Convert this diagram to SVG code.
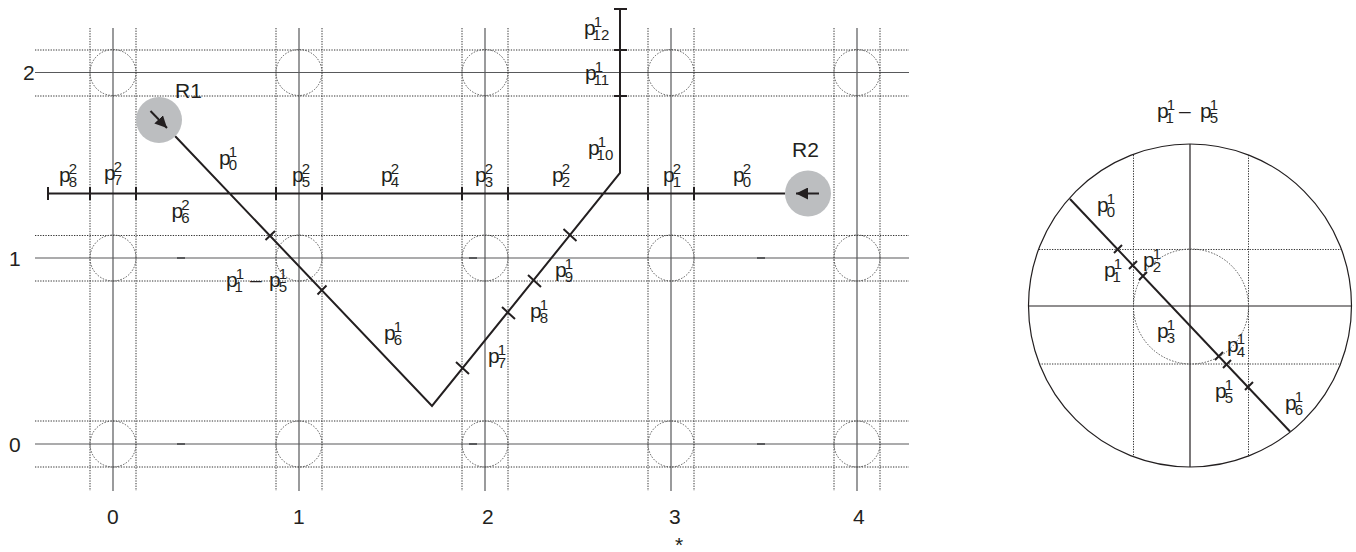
<svg xmlns="http://www.w3.org/2000/svg" width="1356" height="552" viewBox="0 0 1356 552">
<style>
text{font-family:"Liberation Sans",Arial,sans-serif;fill:#231f20;font-size:21px}
.s{font-size:15px}
.g{stroke:#58595b;stroke-width:1.2;fill:none}
.d{stroke:#333;stroke-width:1;stroke-dasharray:1.3 1.3;fill:none}
.c{stroke:#555;stroke-width:1;stroke-dasharray:1.5 1.5;fill:none}
.t{stroke:#231f20;stroke-width:2;fill:none}
.k{stroke:#231f20;stroke-width:2;fill:none}
.m{stroke:#58595b;stroke-width:2;fill:none}
.r{fill:#bcbec0}
</style>
<defs>
<marker id="ah" viewBox="0 0 10 10" refX="10" refY="5" markerWidth="12" markerHeight="12" markerUnits="userSpaceOnUse" orient="auto"><path d="M0 0L10 5L0 10Z" fill="#231f20"/></marker>
<g id="lc"><circle class="c" r="23"/></g>
</defs>
<g id="grid">
<path class="g" d="M113 28V491M299 28V491M485 28V491M671 28V491M857 28V491M35 72.5H909M35 258H909M35 444H909"/>
<path class="d" d="M90 28V491M136 28V491M276 28V491M322 28V491M462 28V491M508 28V491M648 28V491M694 28V491M834 28V491M880 28V491M35 50H909M35 96H909M35 235.500H909M35 281H909M35 421H909M35 467H909"/>
<use href="#lc" x="113" y="72.500"/><use href="#lc" x="299" y="72.500"/><use href="#lc" x="485" y="72.500"/><use href="#lc" x="671" y="72.500"/><use href="#lc" x="857" y="72.500"/>
<use href="#lc" x="113" y="258"/><use href="#lc" x="299" y="258"/><use href="#lc" x="485" y="258"/><use href="#lc" x="671" y="258"/><use href="#lc" x="857" y="258"/>
<use href="#lc" x="113" y="444"/><use href="#lc" x="299" y="444"/><use href="#lc" x="485" y="444"/><use href="#lc" x="671" y="444"/><use href="#lc" x="857" y="444"/>
<path class="m" d="M177 258h8M469 258h8M757 258h8M177 444h8M469 444h8M757 444h8"/>
<text x="23" y="80">2</text><text x="9" y="266">1</text><text x="9" y="452">0</text>
<text x="107" y="524">0</text><text x="293" y="524">1</text><text x="482" y="524">2</text><text x="669" y="524">3</text><text x="853" y="524">4</text>
<text x="675" y="552" font-size="21">*</text>
</g>
<g id="connectors">
<path class="t" d="M48 193.500H785M175 136L432 406L620 173V9"/>
<path class="k" d="M48 187v13M90 187v13M136 187v13M276 187v13M322 187v13M462 187v13M508 187v13M648 187v13M694 187v13M614 9h13M614 50h13M614 96h13M265.500 240L275 231M317.500 294.500L326.500 285.500M456 362L469 374M502 307L515 319M528 275L541 287M563.500 229L576.500 241"/>
</g>
<g id="R1"><circle class="r" cx="159" cy="120" r="23"/><line x1="150.500" y1="111" x2="167" y2="128" stroke="#231f20" stroke-width="2" marker-end="url(#ah)"/><text x="175" y="98">R1</text></g>
<g id="R2"><circle class="r" cx="808" cy="193.500" r="23"/><line x1="819" y1="193.500" x2="796" y2="193.500" stroke="#231f20" stroke-width="2" marker-end="url(#ah)"/><text x="792" y="157">R2</text></g>
<g id="labels">
<text x="59" y="182">p<tspan class="s" dx="-2" dy="-8.500">2</tspan><tspan class="s" dx="-8.340" dy="13">8</tspan></text>
<text x="104" y="180">p<tspan class="s" dx="-2" dy="-8.500">2</tspan><tspan class="s" dx="-8.340" dy="13">7</tspan></text>
<text x="292" y="182">p<tspan class="s" dx="-2" dy="-8.500">2</tspan><tspan class="s" dx="-8.340" dy="13">5</tspan></text>
<text x="381" y="182">p<tspan class="s" dx="-2" dy="-8.500">2</tspan><tspan class="s" dx="-8.340" dy="13">4</tspan></text>
<text x="475" y="182">p<tspan class="s" dx="-2" dy="-8.500">2</tspan><tspan class="s" dx="-8.340" dy="13">3</tspan></text>
<text x="552" y="182">p<tspan class="s" dx="-2" dy="-8.500">2</tspan><tspan class="s" dx="-8.340" dy="13">2</tspan></text>
<text x="663" y="182">p<tspan class="s" dx="-2" dy="-8.500">2</tspan><tspan class="s" dx="-8.340" dy="13">1</tspan></text>
<text x="733" y="182">p<tspan class="s" dx="-2" dy="-8.500">2</tspan><tspan class="s" dx="-8.340" dy="13">0</tspan></text>
<text x="171.500" y="218">p<tspan class="s" dx="-2" dy="-8.500">2</tspan><tspan class="s" dx="-8.340" dy="13">6</tspan></text>
<text x="219" y="165">p<tspan class="s" dx="-2" dy="-8.500">1</tspan><tspan class="s" dx="-8.340" dy="13">0</tspan></text>
<text x="226" y="287">p<tspan class="s" dx="-2" dy="-8.500">1</tspan><tspan class="s" dx="-8.340" dy="13">1</tspan></text>
<text x="250" y="287">–</text>
<text x="269" y="287">p<tspan class="s" dx="-2" dy="-8.500">1</tspan><tspan class="s" dx="-8.340" dy="13">5</tspan></text>
<text x="384" y="340">p<tspan class="s" dx="-2" dy="-8.500">1</tspan><tspan class="s" dx="-8.340" dy="13">6</tspan></text>
<text x="488" y="363">p<tspan class="s" dx="-2" dy="-8.500">1</tspan><tspan class="s" dx="-8.340" dy="13">7</tspan></text>
<text x="530" y="318">p<tspan class="s" dx="-2" dy="-8.500">1</tspan><tspan class="s" dx="-8.340" dy="13">8</tspan></text>
<text x="555" y="277">p<tspan class="s" dx="-2" dy="-8.500">1</tspan><tspan class="s" dx="-8.340" dy="13">9</tspan></text>
<text x="588" y="155">p<tspan class="s" dx="-2" dy="-8.500">1</tspan><tspan class="s" dx="-8.340" dy="13">10</tspan></text>
<text x="585" y="80">p<tspan class="s" dx="-2" dy="-8.500">1</tspan><tspan class="s" dx="-8.340" dy="13">11</tspan></text>
<text x="584" y="35">p<tspan class="s" dx="-2" dy="-8.500">1</tspan><tspan class="s" dx="-8.340" dy="13">12</tspan></text>
</g>
<g id="detail">
<circle cx="1190" cy="305.500" r="161.500" fill="none" stroke="#231f20" stroke-width="1.2"/>
<path stroke="#231f20" stroke-width="1.2" fill="none" d="M1190 144V467M1028.500 306H1351.500"/>
<path class="d" d="M1133.500 155V457M1248.500 155V457M1039 249.500H1341M1039 364H1341"/>
<circle class="c" cx="1191" cy="306.500" r="57.500"/>
<path class="t" d="M1070 199L1290 431.500"/>
<path class="k" d="M1114 253L1122 245M1129 269L1137 261M1139 280L1147 272M1215 360L1223 352M1223 368L1231 360M1245 390L1253 382"/>
<text x="1157" y="118">p<tspan class="s" dx="-2" dy="-8.500">1</tspan><tspan class="s" dx="-8.340" dy="13">1</tspan></text>
<text x="1179" y="118">–</text>
<text x="1200" y="118">p<tspan class="s" dx="-2" dy="-8.500">1</tspan><tspan class="s" dx="-8.340" dy="13">5</tspan></text>
<text x="1097" y="212">p<tspan class="s" dx="-2" dy="-8.500">1</tspan><tspan class="s" dx="-8.340" dy="13">0</tspan></text>
<text x="1104" y="277">p<tspan class="s" dx="-2" dy="-8.500">1</tspan><tspan class="s" dx="-8.340" dy="13">1</tspan></text>
<text x="1143" y="267">p<tspan class="s" dx="-2" dy="-8.500">1</tspan><tspan class="s" dx="-8.340" dy="13">2</tspan></text>
<text x="1157" y="338">p<tspan class="s" dx="-2" dy="-8.500">1</tspan><tspan class="s" dx="-8.340" dy="13">3</tspan></text>
<text x="1227" y="352">p<tspan class="s" dx="-2" dy="-8.500">1</tspan><tspan class="s" dx="-8.340" dy="13">4</tspan></text>
<text x="1215" y="398">p<tspan class="s" dx="-2" dy="-8.500">1</tspan><tspan class="s" dx="-8.340" dy="13">5</tspan></text>
<text x="1285" y="410">p<tspan class="s" dx="-2" dy="-8.500">1</tspan><tspan class="s" dx="-8.340" dy="13">6</tspan></text>
</g>
</svg>
